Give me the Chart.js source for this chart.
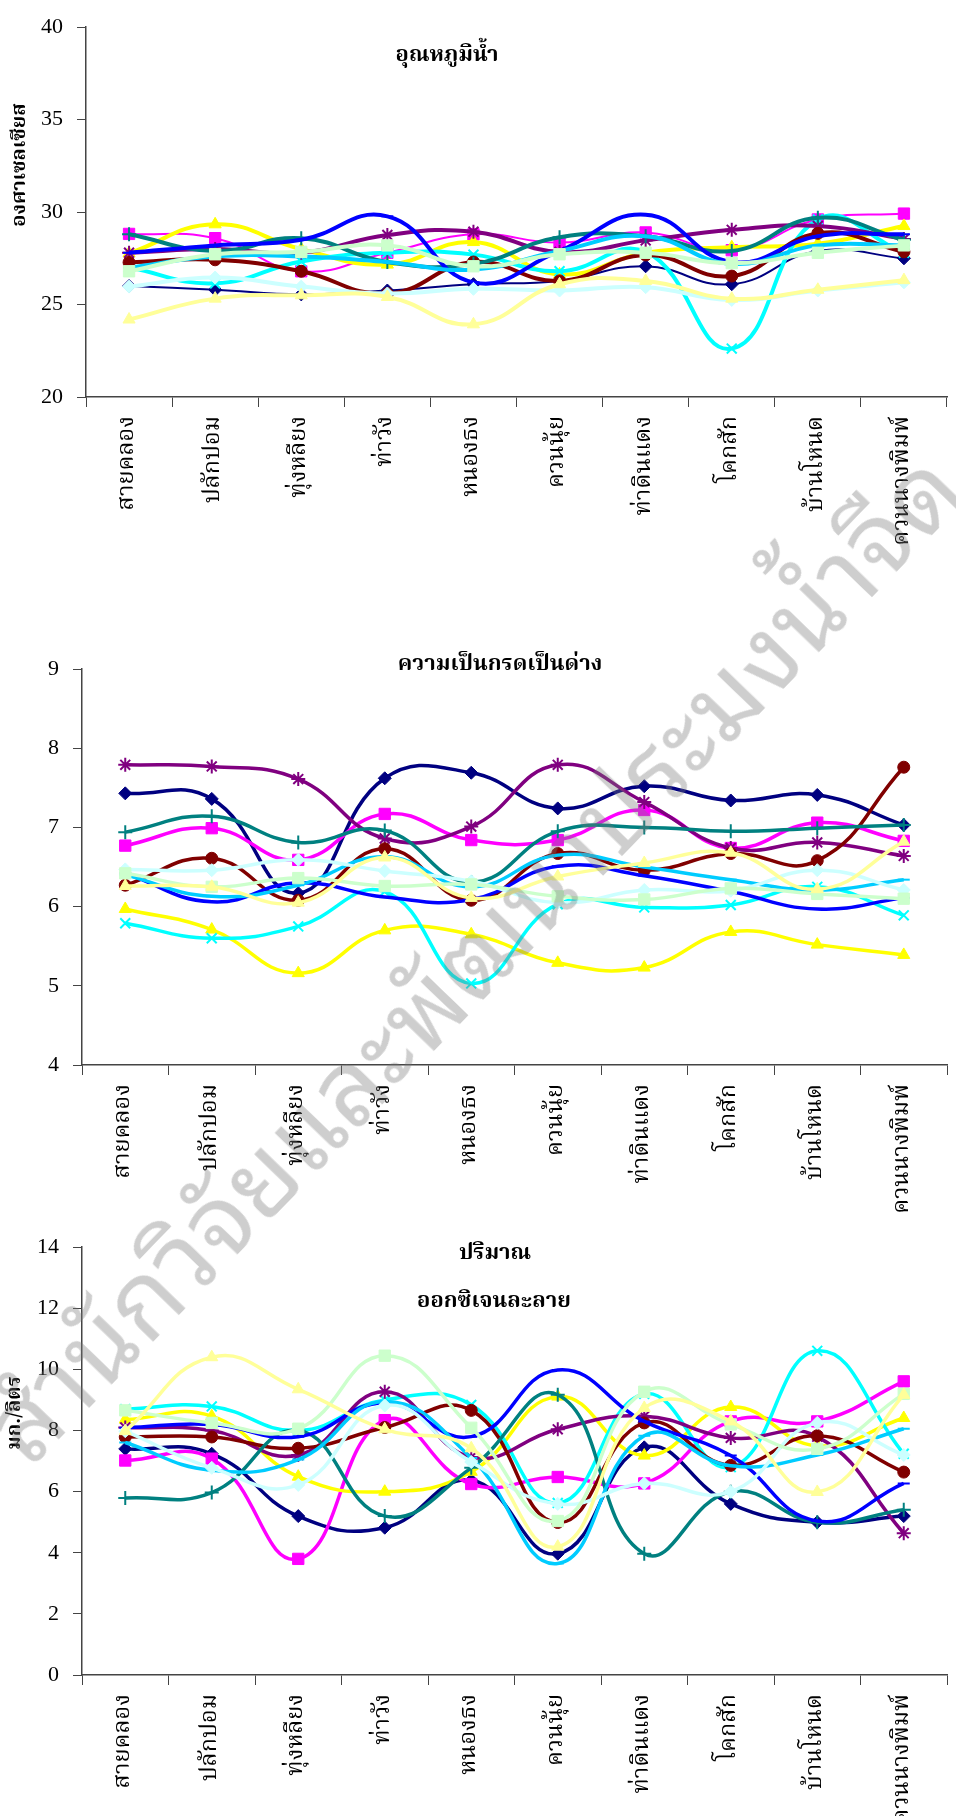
<!DOCTYPE html>
<html>
<head>
<meta charset="utf-8">
<script src="https://cdn.jsdelivr.net/npm/chart.js@4.4.1/dist/chart.umd.min.js"></script>
<style>
  html, body { margin: 0; padding: 0; background: #fff; }
  #page { position: relative; width: 956px; height: 1816px; overflow: hidden; background: #fff; }
  .panel { position: absolute; left: 0; width: 956px; }
  .panel canvas { display: block; }
  #watermark {
    position: absolute; left: 466px; top: 950px;
    transform: translate(-50%, -50%) rotate(-46deg);
    font-family: 'Noto Sans Thai Looped', 'Loma', 'Garuda', 'Noto Sans Thai', 'Noto Sans', sans-serif;
    font-size: 104px; color: rgba(120, 120, 120, 0.36);
    white-space: nowrap; pointer-events: none; line-height: 1;
  }
</style>
</head>
<body>
<div id="page">
  <div class="panel" style="top:0;height:600px"><canvas id="tempChart" width="956" height="600"></canvas></div>
  <div class="panel" style="top:600px;height:620px"><canvas id="phChart" width="956" height="620"></canvas></div>
  <div class="panel" style="top:1220px;height:596px"><canvas id="doChart" width="956" height="596"></canvas></div>
  <div id="watermark">สำนักวิจัยและพัฒนาประมงน้ำจืด</div>
</div>
<script>
// Sampling stations along the x axis
const stations = ['สายคลอง', 'ปลักปอม', 'ทุ่งหลียง', 'ท่าวัง', 'หนองธง', 'ควนนุ้ย', 'ท่าดินแดง', 'โคกสัก', 'บ้านโหนด', 'ควนนางพิมพ์'];

// Water temperature (°C), one row per survey series
const temperature = [
  [26.0, 25.8, 25.55, 25.76, 26.1, 26.28, 27.07, 26.1, 27.9, 27.5],
  [28.82, 28.59, 26.8, 27.8, 28.8, 28.35, 28.9, 27.94, 29.6, 29.92],
  [27.77, 29.34, 28.0, 27.16, 28.38, 26.63, 27.8, 28.1, 28.29, 29.25],
  [27.0, 26.15, 27.33, 27.8, 27.7, 26.8, 27.85, 22.62, 29.6, 27.8],
  [27.8, 28.0, 27.8, 28.76, 28.94, 27.85, 28.47, 29.04, 29.25, 28.55],
  [27.28, 27.42, 26.8, 25.59, 27.3, 26.28, 27.68, 26.54, 28.85, 27.85],
  [28.8, 27.9, 28.59, 27.3, 27.2, 28.64, 28.7, 27.9, 29.69, 28.5],
  [27.8, 28.2, 28.5, 29.77, 26.2, 27.9, 29.86, 27.3, 28.7, 28.8],
  [27.0, 27.6, 27.6, 27.3, 26.9, 27.9, 28.7, 27.2, 28.2, 28.2],
  [25.97, 26.46, 25.97, 25.6, 25.85, 25.76, 25.94, 25.25, 25.76, 26.2],
  [26.8, 27.72, 27.85, 28.2, 27.07, 27.72, 27.8, 27.24, 27.8, 28.2],
  [24.19, 25.32, 25.5, 25.41, 23.93, 26.1, 26.28, 25.32, 25.8, 26.32]
];

// pH
const ph = [
  [7.43, 7.36, 6.17, 7.62, 7.69, 7.24, 7.52, 7.34, 7.41, 7.03],
  [6.77, 6.99, 6.59, 7.17, 6.84, 6.84, 7.22, 6.74, 7.06, 6.83],
  [5.97, 5.71, 5.16, 5.70, 5.65, 5.29, 5.23, 5.68, 5.52, 5.39],
  [5.79, 5.60, 5.75, 6.19, 5.03, 6.03, 5.99, 6.02, 6.25, 5.89],
  [7.79, 7.77, 7.61, 6.86, 7.01, 7.79, 7.32, 6.74, 6.81, 6.64],
  [6.27, 6.61, 6.08, 6.73, 6.08, 6.67, 6.46, 6.67, 6.58, 7.76],
  [6.94, 7.14, 6.81, 6.96, 6.31, 6.95, 7.00, 6.95, 6.99, 7.03],
  [6.42, 6.06, 6.30, 6.12, 6.09, 6.51, 6.39, 6.19, 5.97, 6.11],
  [6.40, 6.13, 6.27, 6.63, 6.25, 6.65, 6.50, 6.34, 6.21, 6.34],
  [6.47, 6.46, 6.59, 6.45, 6.32, 6.05, 6.21, 6.20, 6.46, 6.21],
  [6.42, 6.25, 6.36, 6.26, 6.28, 6.13, 6.09, 6.23, 6.16, 6.10],
  [6.26, 6.25, 6.05, 6.62, 6.11, 6.38, 6.55, 6.68, 6.22, 6.82]
];

// Dissolved oxygen (mg/L)
const oxygen = [
  [7.40, 7.24, 5.20, 4.82, 6.37, 3.97, 7.45, 5.60, 5.00, 5.20],
  [7.02, 7.08, 3.80, 8.34, 6.25, 6.48, 6.27, 8.30, 8.30, 9.61],
  [8.36, 8.47, 6.49, 6.00, 6.65, 9.11, 7.18, 8.77, 7.50, 8.41],
  [8.70, 8.79, 8.00, 9.00, 8.84, 5.63, 9.20, 6.80, 10.61, 7.24],
  [8.10, 8.00, 7.20, 9.27, 7.13, 8.04, 8.47, 7.76, 7.80, 4.64],
  [7.79, 7.79, 7.42, 8.10, 8.66, 4.99, 8.25, 6.86, 7.83, 6.64],
  [5.79, 5.97, 8.00, 5.20, 6.78, 9.17, 3.97, 6.00, 5.00, 5.41],
  [8.09, 8.20, 7.80, 8.90, 7.80, 9.98, 8.30, 7.18, 5.04, 6.27],
  [7.61, 6.70, 7.05, 8.95, 7.10, 3.65, 7.83, 6.85, 7.20, 8.06],
  [7.98, 6.78, 6.22, 8.82, 6.97, 5.60, 6.27, 6.00, 8.25, 7.20],
  [8.66, 8.25, 8.06, 10.45, 8.09, 5.04, 9.27, 8.20, 7.40, 9.20],
  [7.98, 10.40, 9.35, 8.04, 7.42, 4.20, 8.74, 8.30, 5.99, 9.17]
];

// Y axis ranges
const tempTicks = { min: 20, max: 40, step: 5 };
const phTicks = { min: 4, max: 9, step: 1 };
const oxygenTicks = { min: 0, max: 14, step: 2 };

// Series styling
const seriesColors = ['#000080', '#FF00FF', '#FFFF00', '#00FFFF', '#800080', '#800000',
                      '#008080', '#0000FF', '#00CCFF', '#CCFFFF', '#CCFFCC', '#FFFF99'];
const seriesMarkers = ['rectRot', 'rect', 'triangle', 'crossRot', 'star', 'circle',
                       'cross', 'line', 'line', 'rectRot', 'rect', 'triangle'];
const markerRadius = { rectRot: 6.5, rect: 8, triangle: 7, crossRot: 7, star: 7, circle: 6, cross: 7, line: 6 };
const openMarkers = ['crossRot', 'star', 'cross', 'line'];

const THAI = "'Noto Serif Thai', 'Noto Sans Thai', 'Norasi', 'Loma', 'Garuda', 'Liberation Serif', serif";
const SERIF = "'Liberation Serif', 'Times New Roman', serif";

// Free text drawn on the canvas: chart headings and rotated axis titles
const captionPlugin = {
  id: 'captions',
  afterDraw(chart, args, opts) {
    const ctx = chart.ctx;
    (opts.items || []).forEach(it => {
      ctx.save();
      ctx.font = it.font;
      ctx.fillStyle = '#000';
      ctx.textAlign = 'center';
      ctx.textBaseline = 'middle';
      ctx.translate(it.x, it.y);
      if (it.rotate) ctx.rotate(it.rotate);
      ctx.fillText(it.text, 0, 0);
      ctx.restore();
    });
  }
};

function buildDatasets(rows, widths) {
  return rows.map((values, i) => {
    const marker = seriesMarkers[i];
    const open = openMarkers.includes(marker);
    return {
      data: values,
      borderColor: seriesColors[i],
      backgroundColor: seriesColors[i],
      borderWidth: widths[i],
      pointStyle: marker,
      pointRadius: markerRadius[marker],
      pointBorderWidth: open ? 2 : 1,
      pointBorderColor: seriesColors[i],
      pointBackgroundColor: seriesColors[i],
      tension: 0.45,
      fill: false,
      order: rows.length - i
    };
  });
}

function buildChart(id, rows, range, widths, layout, captions) {
  return new Chart(document.getElementById(id), {
    type: 'line',
    data: { labels: stations, datasets: buildDatasets(rows, widths) },
    options: {
      responsive: false,
      animation: false,
      events: [],
      layout: { padding: { top: layout.top, left: 0, right: 0, bottom: 0 } },
      plugins: {
        legend: { display: false },
        tooltip: { enabled: false },
        captions: { items: captions }
      },
      scales: {
        x: {
          type: 'category',
          offset: true,
          grid: { offset: true, drawOnChartArea: false, drawTicks: true, tickLength: 10, color: '#444', lineWidth: 1 },
          border: { color: '#444', width: 1.5 },
          ticks: { autoSkip: false, minRotation: 90, maxRotation: 90, padding: 9, color: '#000',
                   font: { family: THAI, size: 23.5 } },
          afterFit(scale) { scale.height = layout.xHeight; }
        },
        y: {
          min: range.min, max: range.max,
          grid: { drawOnChartArea: false, drawTicks: true, tickLength: 9, color: '#444', lineWidth: 1 },
          border: { color: '#444', width: 1.5 },
          ticks: { stepSize: range.step, padding: 14, color: '#000', font: { family: SERIF, size: 22 } },
          afterFit(scale) { scale.width = layout.yWidth; }
        }
      }
    },
    plugins: [captionPlugin]
  });
}

const thickAll = (w) => seriesColors.map(() => w);
const tempWidths = thickAll(4); tempWidths[0] = 2; tempWidths[1] = 2;

buildChart('tempChart', temperature, tempTicks, tempWidths,
  { top: 15, xHeight: 203, yWidth: 86 },
  [
    { text: 'อุณหภูมิน้ำ', x: 447, y: 57, font: `bold 22px ${THAI}` },
    { text: 'องศาเซลเซียส', x: 22, y: 165, rotate: -Math.PI / 2, font: `bold 20px ${THAI}` }
  ]);

buildChart('phChart', ph, phTicks, thickAll(3.5),
  { top: 69, xHeight: 155, yWidth: 82 },
  [
    { text: 'ความเป็นกรดเป็นด่าง', x: 500, y: 66, font: `bold 22px ${THAI}` }
  ]);

buildChart('doChart', oxygen, oxygenTicks, thickAll(3.5),
  { top: 19, xHeight: 141, yWidth: 82 },
  [
    { text: 'ปริมาณ', x: 495, y: 35, font: `bold 22px ${THAI}` },
    { text: 'ออกซิเจนละลาย', x: 494, y: 83, font: `bold 22px ${THAI}` },
    { text: 'มก./ลิตร', x: 17, y: 193, rotate: -Math.PI / 2, font: `bold 20px ${THAI}` }
  ]);
</script>
</body>
</html>
